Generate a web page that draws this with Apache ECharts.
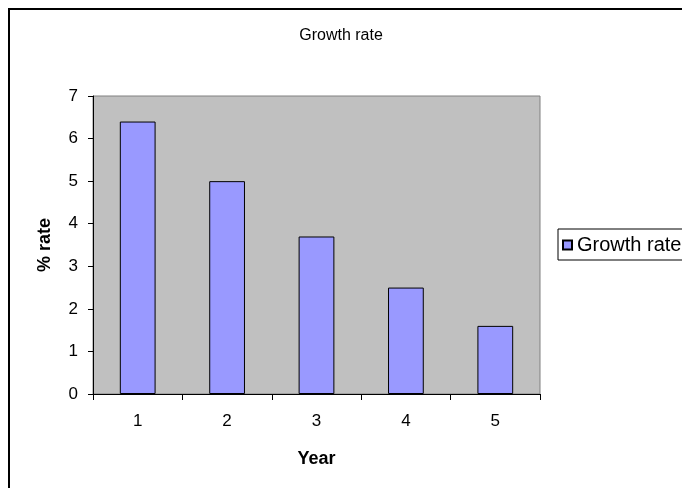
<!DOCTYPE html>
<html>
<head>
<meta charset="utf-8">
<script src="https://cdn.jsdelivr.net/npm/echarts@6/dist/echarts.min.js"></script>
<style>
  html, body { margin: 0; padding: 0; background: #fff; }
  #chart { width: 682px; height: 488px; }
</style>
</head>
<body>
<div id="chart"></div>
<script>
// Annual growth rate, years 1 to 5
const years = ['1', '2', '3', '4', '5'];
const growthRate = [6.4, 5.0, 3.7, 2.5, 1.6];
const yTicks = [0, 1, 2, 3, 4, 5, 6, 7];

const chart = echarts.init(document.getElementById('chart'), null, { renderer: 'canvas' });
const font = 'Liberation Sans, Arial, sans-serif';

chart.setOption({
  animation: false,
  backgroundColor: '#ffffff',
  graphic: [{
    type: 'rect',
    shape: { x: 9, y: 9, width: 720, height: 520 },
    style: { fill: 'none', stroke: '#000', lineWidth: 2 },
    silent: true,
    z: -1
  }],
  title: {
    text: 'Growth rate',
    left: 'center',
    top: 23,
    textStyle: { fontFamily: font, fontSize: 16, fontWeight: 'normal', color: '#000' }
  },
  legend: {
    left: 558,
    top: 229,
    orient: 'vertical',
    data: ['Growth rate'],
    itemWidth: 9,
    itemHeight: 9,
    itemGap: 5,
    padding: [6, 12, 5, 4],
    borderColor: '#000',
    borderWidth: 1,
    icon: 'rect',
    textStyle: { fontFamily: font, fontSize: 20, color: '#000' }
  },
  grid: {
    left: 93,
    top: 96,
    width: 447,
    height: 298,
    show: true,
    backgroundColor: '#C0C0C0',
    borderColor: '#808080',
    borderWidth: 1
  },
  xAxis: {
    type: 'category',
    data: years,
    name: 'Year',
    nameLocation: 'middle',
    nameGap: 56,
    nameTextStyle: { fontFamily: font, fontSize: 18, fontWeight: 'bold', color: '#000' },
    axisLine: { lineStyle: { color: '#000', width: 1 } },
    axisTick: { show: true, length: 6, alignWithLabel: false, lineStyle: { color: '#000' } },
    axisLabel: { fontFamily: font, fontSize: 17, color: '#000', margin: 19 },
    splitLine: { show: false }
  },
  yAxis: {
    type: 'value',
    min: yTicks[0],
    max: yTicks[yTicks.length - 1],
    interval: 1,
    name: '% rate',
    nameLocation: 'middle',
    nameGap: 39,
    nameTextStyle: { fontFamily: font, fontSize: 18, fontWeight: 'bold', color: '#000' },
    axisLine: { show: true, lineStyle: { color: '#000', width: 1 } },
    axisTick: { show: true, length: 5, lineStyle: { color: '#000' } },
    axisLabel: { fontFamily: font, fontSize: 17, color: '#000', margin: 15 },
    splitLine: { show: false }
  },
  series: [{
    name: 'Growth rate',
    type: 'bar',
    data: growthRate,
    barWidth: '40%',
    itemStyle: { color: '#9999FF', borderColor: '#000', borderWidth: 1 }
  }]
});
</script>
</body>
</html>
